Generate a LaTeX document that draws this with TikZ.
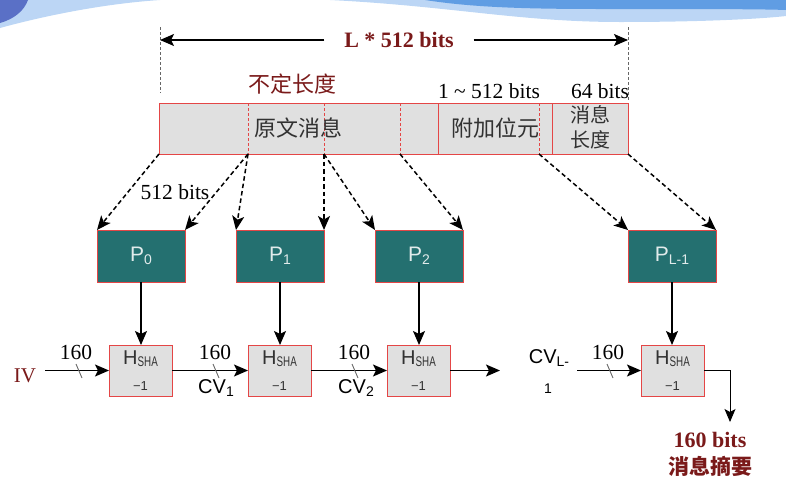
\documentclass[tikz,border=0pt]{standalone}
\usepackage{fontspec}
\setmainfont{Liberation Serif}
\setsansfont{Liberation Sans}
\newfontfamily\cjk{Noto Sans CJK SC}
\newfontfamily\condsans[FakeStretch=0.7]{Liberation Sans}
\usetikzlibrary{arrows.meta}
\definecolor{darkred}{RGB}{122,26,26}
\definecolor{boxred}{RGB}{228,70,70}
\definecolor{tealbox}{RGB}{36,112,112}
\definecolor{graybox}{RGB}{224,224,224}
\definecolor{pwhite}{RGB}{225,235,235}
\definecolor{txtgray}{RGB}{50,50,50}
\definecolor{wavelight}{RGB}{188,214,245}
\definecolor{wavemid}{RGB}{96,157,227}
\definecolor{wavedark}{RGB}{90,112,198}
\newcommand\sbs[1]{\raisebox{-0.3ex}{\fontsize{14}{14}\selectfont #1}}
\newcommand\hsha{H\raisebox{-1.5pt}{\condsans\fontsize{14}{14}\selectfont SHA}}
\begin{document}
\begin{tikzpicture}[x=1pt,y=-1pt,
  every node/.style={inner sep=0pt, outer sep=0pt},
  pbox/.style={draw=boxred, line width=1pt, fill=tealbox, minimum width=88pt, minimum height=52pt, text=pwhite, font=\sffamily\fontsize{21}{21}\selectfont},
  hbox/.style={draw=boxred, line width=1pt, fill=graybox, minimum width=63pt, minimum height=51pt},
  htext/.style={text=txtgray, font=\sffamily\fontsize{20}{20}\selectfont},
  hminus/.style={text=txtgray, font=\sffamily\fontsize{13}{13}\selectfont},
  numlab/.style={font=\fontsize{21.5}{21.5}\selectfont},
  cvlab/.style={font=\sffamily\fontsize{20}{20}\selectfont},
  cjklab/.style={text=txtgray, font=\cjk\fontsize{22}{22}\selectfont},
  redlab/.style={text=darkred, font=\bfseries\fontsize{22}{22}\selectfont},
  main/.style={line width=1.3pt, -{Stealth[length=14pt,width=12pt,inset=3pt]}},
  dasharrow/.style={line width=1.5pt, dash pattern=on 4.5pt off 3pt, -{Stealth[length=14pt,width=12pt,inset=3.5pt]}},
  tick/.style={line width=0.9pt, draw=black!60},
  guide/.style={line width=0.8pt, draw=black!60, dash pattern=on 3pt off 2pt},
  divider/.style={line width=0.9pt, draw=boxred, dash pattern=on 3pt off 2pt},
]
\useasboundingbox (0,0) rectangle (786,485);
% background wave
\fill[wavelight] (0,0) -- (0,28) .. controls (40,17) and (100,4) .. (160,0) -- cycle;
\fill[wavedark] (0,0) -- (28,0) .. controls (24,11) and (14,19) .. (0,23) -- cycle;
\fill[wavelight] (330,0) .. controls (450,6) and (520,22) .. (620,22) .. controls (700,22) and (760,19) .. (786,16) -- (786,0) -- cycle;
\fill[wavemid] (425,0) .. controls (470,7) and (520,9) .. (600,9) .. controls (700,9) and (760,9) .. (786,10) -- (786,0) -- cycle;

% top dimension
\coordinate (gl) at (160,40);
\coordinate (gr) at (628,40);
\draw[guide] (160,27) -- (160,93);
\draw[guide] (628,27) -- (628,100);
\node[text=darkred, font=\bfseries\fontsize{22}{22}\selectfont] (Ltxt) at (399,40) {L * 512 bits};
\draw[main] ([xshift=-20pt]Ltxt.west) -- (gl);
\draw[main] ([xshift=20pt]Ltxt.east) -- (gr);

% labels above bar
\node[text=darkred, font=\cjk\fontsize{22}{22}\selectfont] (var) at (292,84) {不定长度};
\node[numlab] (padlen) at (489,91) {1 \char"7E\ 512 bits};
\node[numlab] (lenlen) at (600,91) {64 bits};

% message bar
\node[draw=boxred, fill=graybox, line width=1pt, minimum width=469pt, minimum height=51pt] (bar) at (393.5,128.5) {};
\coordinate (s1) at (248,154);
\coordinate (s2) at (324,154);
\coordinate (s3) at (400,154);
\coordinate (s4) at (539,154);
\draw[divider] (248,103) -- (s1);
\draw[divider] (324,103) -- (s2);
\draw[divider] (400,103) -- (s3);
\draw[divider] (539,103) -- (s4);
\draw[draw=boxred, line width=1pt] (438,103) -- (438,154);
\draw[draw=boxred, line width=1pt] (552,103) -- (552,154);
\node[cjklab] (orig) at (298,128) {原文消息};
\node[cjklab] (pad) at (495,128) {附加位元};
\node[cjklab, font=\cjk\fontsize{20}{20}\selectfont] (len1) at (590,115) {消息};
\node[cjklab, font=\cjk\fontsize{20}{20}\selectfont] (len2) at (590,140) {长度};

% P blocks
\node[pbox] (P0) at (141,256) {P\sbs{0}};
\node[pbox] (P1) at (280,256) {P\sbs{1}};
\node[pbox] (P2) at (419,256) {P\sbs{2}};
\node[pbox] (PL) at (672,256) {P\sbs{L-1}};

\draw[dasharrow] (bar.south west) -- (P0.north west);
\draw[dasharrow] (s1) -- (P0.north east);
\draw[dasharrow] (s1) -- (P1.north west);
\draw[dasharrow] (s2) -- (P1.north east);
\draw[dasharrow] (s2) -- (P2.north west);
\draw[dasharrow] (s3) -- (P2.north east);
\draw[dasharrow] (s4) -- (PL.north west);
\draw[dasharrow] (bar.south east) -- (PL.north east);
\node[numlab] (blk) at (175,192) {512 bits};

% H blocks
\node[hbox] (H1) at (140.5,370.5) {};
\node[hbox] (H2) at (279.5,370.5) {};
\node[hbox] (H3) at (418.5,370.5) {};
\node[hbox] (H4) at (672.5,370.5) {};
\foreach \h in {H1,H2,H3,H4}{
  \node[htext] at ([yshift=12pt]\h.center) {\hsha};
  \node[hminus] at ([yshift=-16pt]\h.center) {−1};
}

\draw[main] (P0.south) -- (P0.south |- H1.north);
\draw[main] (P1.south) -- (P1.south |- H2.north);
\draw[main] (P2.south) -- (P2.south |- H3.north);
\draw[main] (PL.south) -- (PL.south |- H4.north);

% chaining
\node[text=darkred, font=\fontsize{21}{21}\selectfont] (IV) at (25,376) {IV};
\coordinate (ivs) at (45,370.5);
\coordinate (c3) at (500,370.5);
\coordinate (c4) at (577,370.5);
\coordinate (out) at (730,422);
\draw[main] (ivs) -- (H1.west);
\draw[main] (H1.east) -- (H2.west);
\draw[main] (H2.east) -- (H3.west);
\draw[main] (H3.east) -- (c3);
\draw[main] (c4) -- (H4.west);
\draw[line width=0.9pt, -{Stealth[length=13pt,width=11pt,inset=3pt]}] (H4.east) -| (out);

\foreach \x in {79,216,355,610}{
  \draw[tick] (\x-3,364) -- (\x+3,378);
}
\node[numlab] (n1) at (76,352) {160};
\node[numlab] (n2) at (215,352) {160};
\node[numlab] (n3) at (354,352) {160};
\node[numlab] (n4) at (608,352) {160};
\node[cvlab] (cv1) at (216,388) {CV\sbs{1}};
\node[cvlab] (cv2) at (356,388) {CV\sbs{2}};
\node[cvlab] (cvl) at (549,358) {CV\sbs{L-}};
\node[cvlab, font=\sffamily\fontsize{14}{14}\selectfont] (cvl1) at (548,389) {1};

\node[redlab] (o1) at (710,440) {160 bits};
\node[text=darkred, font=\cjk\bfseries\fontsize{21}{21}\selectfont] (o2) at (710,466) {消息摘要};
\end{tikzpicture}
\end{document}
